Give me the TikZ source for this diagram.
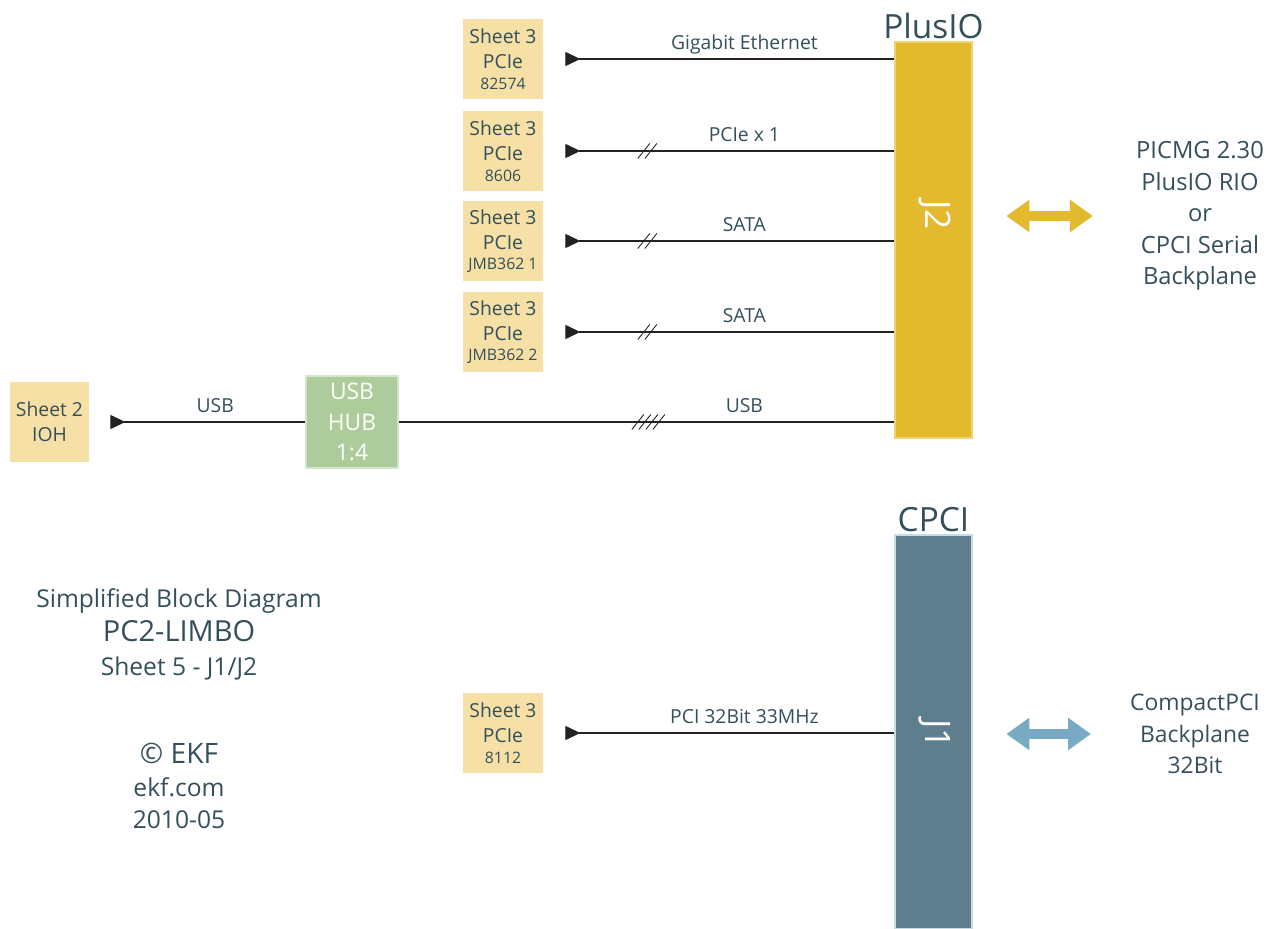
\documentclass[tikz,border=0pt]{standalone}
\usepackage{fontspec}
\setmainfont{Open Sans}
\usetikzlibrary{positioning,arrows.meta,decorations.markings}
\definecolor{sand}{HTML}{F6E0A6}
\definecolor{hubgreen}{HTML}{AECB9C}
\definecolor{hubedge}{HTML}{D4E5CB}
\definecolor{gold}{HTML}{E3B92D}
\definecolor{goldedge}{HTML}{EED36F}
\definecolor{slate}{HTML}{5E7E8D}
\definecolor{slateedge}{HTML}{C9DCE5}
\definecolor{skyblue}{HTML}{78AAC3}
\definecolor{ink}{HTML}{33505A}
\definecolor{wire}{HTML}{222222}

\begin{document}
\begin{tikzpicture}[x=0.02cm, y=-0.02cm,
		sheet/.style={rectangle, fill=sand, minimum width=1.6cm, minimum height=1.6cm, inner sep=0pt, align=center, text=ink, font=\fontsize{11}{14.5}\selectfont},
		conn/.style={rectangle, draw=#1, line width=1.6pt, minimum width=1.54cm, inner sep=0pt},
		contact/.style={rotate=-90, text=white, font=\fontsize{20}{22}\selectfont},
		sig/.style={draw=wire, line width=0.7pt, shorten <=0.44cm, {Triangle[reversed, length=0.3cm, width=0.28cm]}-},
		bus/.style 2 args={postaction={decorate, decoration={markings, mark=at position #1 with {
						\foreach \o in {#2} \draw[-, shorten <=0pt, wire, line width=0.5pt, xshift=\o cm] (-0.12cm,-0.15cm) -- (0.12cm,0.15cm);}}}},
		lbl/.style={anchor=base, yshift=0.19cm, inner sep=0pt, text=ink, font=\fontsize{11}{13}\selectfont},
		title/.style={text=ink, inner sep=1pt, font=\fontsize{19}{21}\selectfont},
		side/.style={align=center, text=ink, font=\fontsize{13}{18}\selectfont},
		dblarrow/.style={draw=#1, line width=0.2cm, {Triangle[length=0.46cm, width=0.62cm]}-{Triangle[length=0.46cm, width=0.62cm]}}
		]
		\useasboundingbox (0,0) rectangle (1275,929);
		
		% connectors
		\node[conn=goldedge, fill=gold, minimum height=7.92cm] (j2) at (933.5,240) {};
		\node[contact] (j2t) at (935,215) {J2};
		\node[title, above=0pt of j2] (plusio) {PlusIO};
		
		\node[conn=slateedge, fill=slate, minimum height=7.88cm] (j1) at (933.5,732) {};
		\node[contact] (j1t) at (935,734) {J1};
		\node[title, above=0pt of j1] (cpci) {CPCI};
		
		% sheet 3 sources
		\foreach \chip/\y [count=\i from 1] in {82574/59, 8606/151, JMB362 1/241, JMB362 2/332, 8112/733}
		\node[sheet] (sh\i) at (503,\y) {Sheet 3\\PCIe\\[-3pt]{\fontsize{9}{10}\selectfont \chip}};
		
		\draw[sig] (sh1.east) to node[lbl, pos=0.574]{Gigabit Ethernet} (sh1.east -| j2.west);
		\draw[sig, bus={2.08cm}{-0.07,0.07}] (sh2.east) to node[lbl, pos=0.574]{PCIe x 1} (sh2.east -| j2.west);
		\draw[sig, bus={2.08cm}{-0.07,0.07}] (sh3.east) to node[lbl, pos=0.574]{SATA} (sh3.east -| j2.west);
		\draw[sig, bus={2.08cm}{-0.07,0.07}] (sh4.east) to node[lbl, pos=0.574]{SATA} (sh4.east -| j2.west);
		\draw[sig] (sh5.east) to node[lbl, pos=0.574]{PCI 32Bit 33MHz} (sh5.east -| j1.west);
		
		% usb
		\node[sheet, minimum width=1.58cm] (ioh) at (49.5,422) {Sheet 2\\IOH};
		\node[rectangle, fill=hubgreen, draw=hubedge, line width=1.6pt, minimum size=1.84cm, inner sep=0pt, align=center, text=white, font=\fontsize{13}{17.5}\selectfont] (hub) at (352,422) {USB\\HUB\\1:4};
		\draw[sig, shorten <=0.42cm] (ioh.east) to node[lbl, pos=0.585]{USB} (hub.west);
		\draw[draw=wire, line width=0.7pt, bus={4.98cm}{-0.21,-0.07,0.07,0.21}] (hub.east) to node[lbl, pos=0.698]{USB} (hub.east -| j2.west);
		
		% backplanes
		\node[side, font=\fontsize{13.5}{18}\selectfont] (picmg) at (1200,216) {PICMG 2.30\\PlusIO RIO\\or\\CPCI Serial\\Backplane};
		\node[side] (cpcibp) at (1195,734) {CompactPCI\\Backplane\\32Bit};
		\draw[dblarrow=gold, shorten <=0.66cm, shorten >=0.74cm] (j2.east |- picmg.west) -- (picmg.west);
		\draw[dblarrow=skyblue, shorten <=0.66cm, shorten >=0.66cm] (j1.east |- cpcibp.west) -- (cpcibp.west);
		
		% title block
		\node[align=center, text=ink, font=\fontsize{14}{19.3}\selectfont] (info) at (179,634) {Simplified Block Diagram\\{\fontsize{16.5}{19.3}\selectfont PC2-LIMBO}\\Sheet 5 - J1/J2};
		\node[align=center, text=ink, font=\fontsize{14}{18.5}\selectfont] (ekf) at (179,786) {{\fontsize{16}{18}\selectfont © EKF}\\ekf.com\\2010-05};
\end{tikzpicture}
\end{document}
